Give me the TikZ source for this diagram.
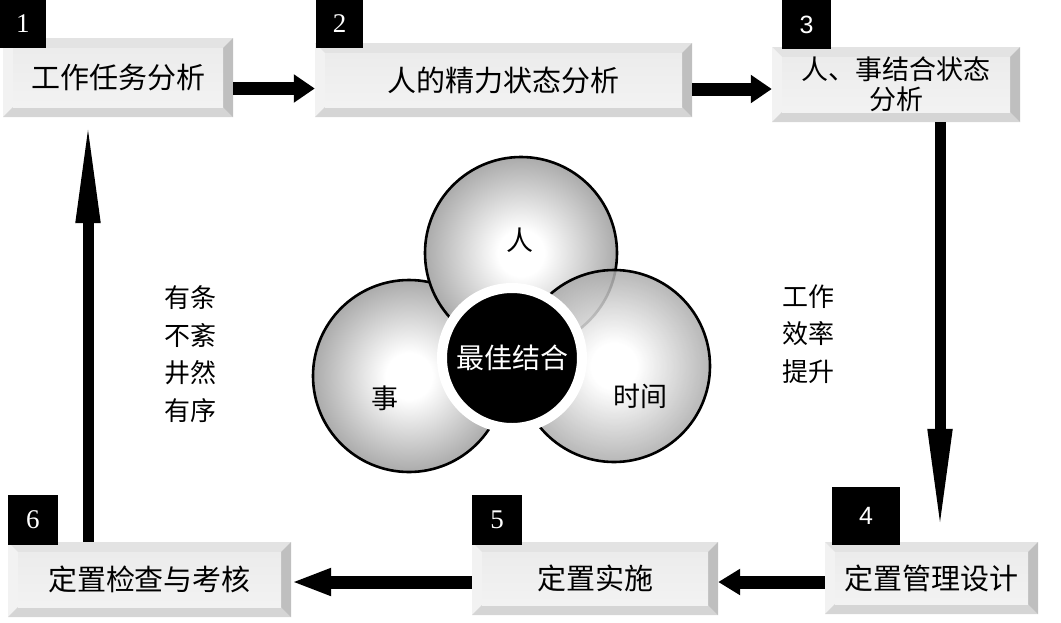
\documentclass[tikz,border=0pt]{standalone}
\usepackage{fontspec}
\setmainfont{Liberation Serif}
\newfontfamily\cjk{Noto Sans CJK SC}
\newfontfamily\digitsans{Liberation Sans}
\usetikzlibrary{arrows.meta}

\pgfdeclareradialshading{softball}{\pgfpoint{0bp}{0bp}}{color(0bp)=(white); color(6bp)=(white); color(25bp)=(black!33); color(50bp)=(black!33)}

\tikzset{
  stepbox/.style={fill=gray!22, inner sep=0pt, align=center,
    font=\cjk\fontsize{29}{31}\selectfont,
    path picture={
      \fill[gray!10] (path picture bounding box.north west)
        -- ([shift={(10pt,-10pt)}]path picture bounding box.north west)
        -- ([shift={(10pt,10pt)}]path picture bounding box.south west)
        -- (path picture bounding box.south west) -- cycle;
      \fill[gray!33] (path picture bounding box.south west)
        -- ([shift={(10pt,10pt)}]path picture bounding box.south west)
        -- ([shift={(-10pt,10pt)}]path picture bounding box.south east)
        -- (path picture bounding box.south east) -- cycle;
      \fill[gray!50] (path picture bounding box.north east)
        -- ([shift={(-10pt,-10pt)}]path picture bounding box.north east)
        -- ([shift={(-10pt,10pt)}]path picture bounding box.south east)
        -- (path picture bounding box.south east) -- cycle;
      \shade[top color=gray!15, middle color=white, bottom color=gray!10]
        ([shift={(10pt,-10pt)}]path picture bounding box.north west)
        rectangle ([shift={(-10pt,10pt)}]path picture bounding box.south east);
    }},
  numbox/.style={fill=black, text=white, inner sep=0pt, font=\fontsize{27}{27}\selectfont},
  flow/.style={line width=13pt, -{Triangle[length=21pt,width=27pt]}},
  drop/.style={line width=11pt, -{Triangle[length=106pt,width=22pt]}},
  ball/.style={circle, minimum size=192pt, inner sep=0pt, draw=black, line width=2.6pt,
    shading=softball},
  balltxt/.style={font=\cjk\fontsize{27}{27}\selectfont},
  sidetxt/.style={align=center, font=\cjk\fontsize{26}{37.7}\selectfont}
}

\begin{document}
\begin{tikzpicture}[x=1pt,y=-1pt]
  \useasboundingbox (0,0) rectangle (1061,622);

  % steps
  \node[stepbox, minimum width=230pt, minimum height=79pt] (b1) at (118,77.5) {工作任务分析};
  \node[stepbox, minimum width=377pt, minimum height=74pt] (b2) at (503.5,80) {人的精力状态分析};
  \node[stepbox, minimum width=248pt, minimum height=75pt, font=\cjk\fontsize{27}{30}\selectfont] (b3) at (896,84.5) {人、事结合状态\\分析};
  \node[stepbox, minimum width=213pt, minimum height=72pt] (b4) at (931.5,578) {定置管理设计};
  \node[stepbox, minimum width=246pt, minimum height=73pt] (b5) at (595,578.5) {定置实施};
  \node[stepbox, minimum width=283pt, minimum height=75pt] (b6) at (149.5,579.5) {定置检查与考核};

  % step numbers
  \node[numbox, minimum width=46pt, minimum height=48pt] (n1) at (23,24) {1};
  \node[numbox, minimum width=47pt, minimum height=48pt] (n2) at (339.5,24) {2};
  \node[numbox, minimum width=49pt, minimum height=49pt, font=\digitsans\fontsize{25}{25}\selectfont] (n3) at (806.5,24.5) {3};
  \node[numbox, minimum width=68pt, minimum height=58pt, font=\digitsans\fontsize{25}{25}\selectfont] (n4) at (866,516) {4};
  \node[numbox, minimum width=50pt, minimum height=50pt] (n5) at (497,520) {5};
  \node[numbox, minimum width=50pt, minimum height=50pt] (n6) at (33,520) {6};

  % flow
  \draw[flow] ([yshift=-11pt]b1.east) -- ([yshift=-11pt]b1.east -| b2.west);
  \draw[flow] ([yshift=-9pt]b2.east) -- ([yshift=-9pt]b2.east -| b3.west);
  \draw[drop] ([xshift=44pt]b3.south) -- ([xshift=8.5pt,yshift=7pt]b4.north);
  \draw[flow, -{Triangle[length=22pt,width=25pt]}] ([yshift=-4pt]b4.west) -- ([yshift=-4pt]b4.west -| b5.east);
  \draw[flow, -{Triangle[length=40pt,width=25pt]}] ([yshift=-3.5pt]b5.west) -- ([yshift=-3.5pt]b5.west -| b6.east);
  \draw[drop] ([xshift=-61.5pt]b6.north) -- ([xshift=-30pt]b1.south);

  % three circles
  \node[ball] (shi) at (409,376) {};
  \node[ball] (ren) at (521,253) {};
  \node[ball, fill opacity=0.85] (shijian) at (614,366) {};
  \node[balltxt] (tren) at (520,240) {人};
  \node[balltxt] (tshi) at (385,398) {事};
  \node[balltxt] (tshijian) at (640,396) {时间};
  \node[circle, fill=black, draw=white, line width=10pt, minimum size=140pt, inner sep=0pt,
    text=white, font=\cjk\fontsize{28}{28}\selectfont] (best) at (512,358) {最佳结合};

  % side notes
  \node[sidetxt] (left) at (190,354) {有条\\不紊\\井然\\有序};
  \node[sidetxt] (right) at (808,334) {工作\\效率\\提升};
\end{tikzpicture}
\end{document}
